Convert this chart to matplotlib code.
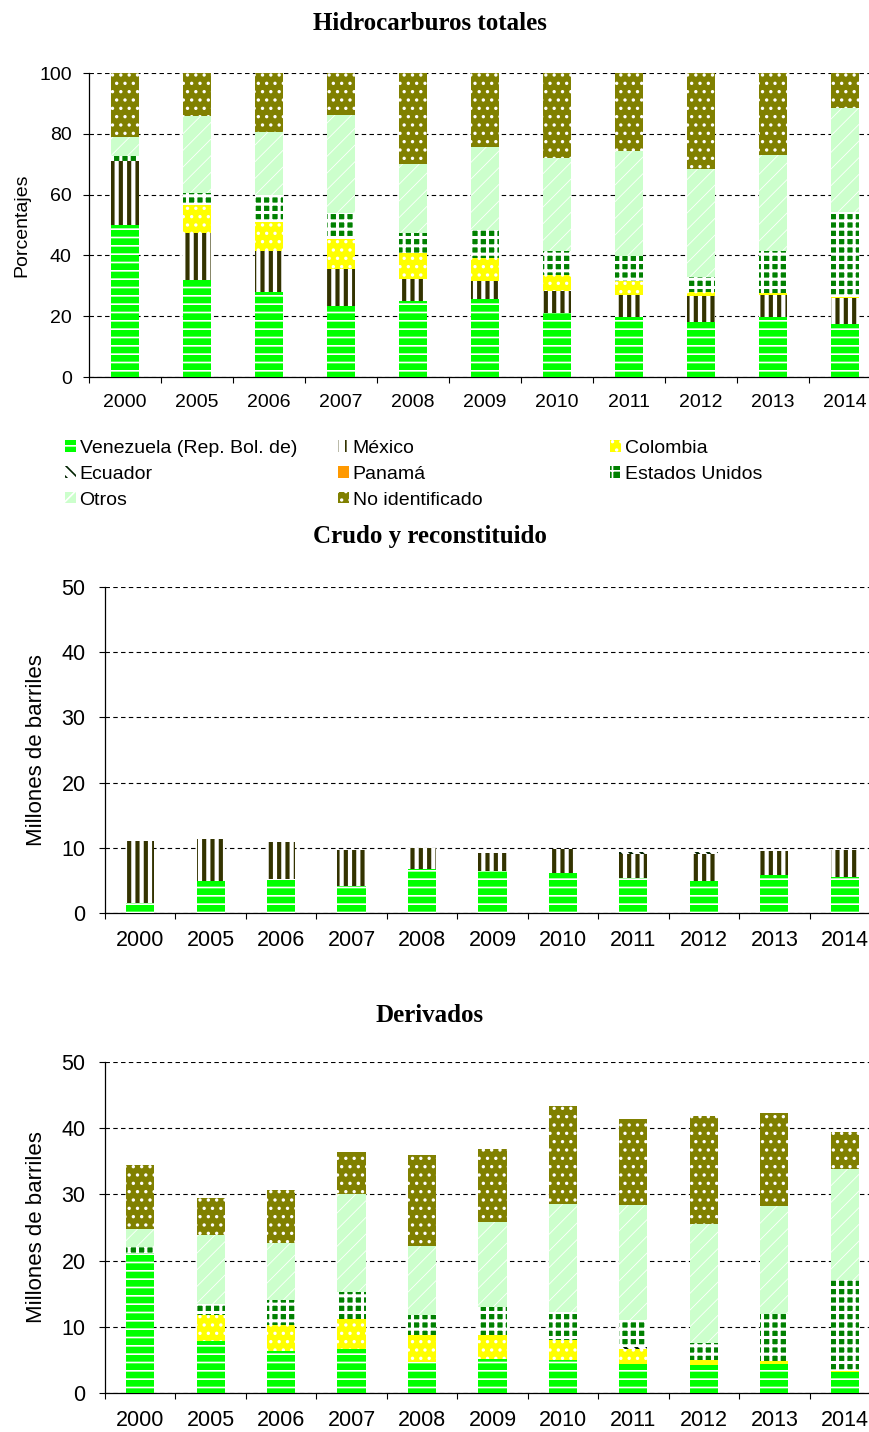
import matplotlib
matplotlib.use("Agg")
import matplotlib.pyplot as plt
from matplotlib.patches import Patch
import numpy as np

plt.rcParams['font.family'] = ['Liberation Sans', 'DejaVu Sans']
plt.rcParams['hatch.linewidth'] = 1.2

years = ['2000', '2005', '2006', '2007', '2008', '2009', '2010', '2011', '2012', '2013', '2014']
series = ['Venezuela (Rep. Bol. de)', 'México', 'Colombia', 'Ecuador', 'Panamá',
          'Estados Unidos', 'Otros', 'No identificado']

# Hidrocarburos totales (porcentajes)
tot_ven = [50.0, 31.9, 27.8, 23.5, 25.1, 25.7, 20.9, 19.6, 18.2, 19.6, 17.4]
tot_mex = [21.0, 15.4, 13.7, 12.0, 7.0, 5.9, 7.4, 7.4, 8.6, 7.4, 8.5]
tot_col = [0.0, 9.3, 9.6, 9.9, 8.6, 7.6, 5.3, 4.5, 1.3, 0.7, 0.3]
tot_ecu = [0.0, 0.0, 0.0, 0.0, 0.0, 0.0, 0.0, 0.0, 0.0, 0.0, 0.0]
tot_pan = [0.0, 0.0, 0.0, 0.0, 0.0, 0.0, 0.0, 0.2, 0.0, 0.0, 0.0]
tot_usa = [1.7, 4.0, 8.8, 8.4, 6.8, 9.2, 7.8, 8.2, 4.9, 13.8, 28.0]
tot_otr = [6.3, 25.3, 20.8, 32.4, 22.6, 27.4, 30.5, 34.5, 35.3, 31.5, 34.4]
tot_ni = [21.0, 14.1, 19.3, 13.8, 29.9, 24.2, 28.1, 25.6, 31.7, 27.0, 11.4]

# Crudo y reconstituido (millones de barriles)
cru_ven = [1.5, 4.9, 5.2, 4.2, 6.8, 6.5, 6.1, 5.3, 4.9, 5.8, 5.5]
cru_mex = [9.5, 6.4, 5.7, 5.5, 3.2, 2.7, 3.7, 3.75, 4.15, 3.75, 4.1]
cru_col = [0.0] * 11
cru_ecu = [0.0, 0.0, 0.0, 0.0, 0.0, 0.0, 0.0, 0.3, 0.3, 0.0, 0.0]
cru_pan = [0.0] * 11
cru_usa = [0.0] * 11
cru_otr = [0.0] * 11
cru_ni = [0.0] * 11

# Derivados (millones de barriles)
der_ven = [21.2, 7.9, 6.3, 6.7, 4.7, 5.2, 5.0, 4.4, 4.3, 4.4, 3.1]
der_mex = [0.0] * 11
der_col = [0.0, 3.9, 3.9, 4.5, 4.0, 3.6, 3.05, 2.2, 0.7, 0.4, 0.2]
der_ecu = [0.0, 0.0, 0.0, 0.0, 0.0, 0.0, 0.0, 0.3, 0.0, 0.0, 0.0]
der_pan = [0.0] * 11
der_usa = [0.8, 1.7, 3.8, 4.0, 3.1, 4.2, 4.25, 4.2, 2.6, 7.2, 13.7]
der_otr = [2.8, 10.3, 8.6, 14.9, 10.4, 12.8, 16.2, 17.3, 18.0, 16.3, 16.9]
der_ni = [9.6, 5.7, 8.0, 6.3, 13.7, 11.1, 14.9, 13.0, 16.2, 14.0, 5.6]

# style per series: facecolor, hatch colour, hatch
styles = [
    ('#00FF00', 'white', '--'),
    ('white', '#333300', '||'),
    ('#FFFF00', 'white', '..'),
    ('white', '#002200', '\\\\\\'),
    ('#FF9900', 'white', 'H'),
    ('#008000', 'white', '++'),
    ('#CCFFCC', 'white', '//'),
    ('#808000', 'white', '..'),
]
hatch_lw = [1.2, 3.0, 1.2, 2.0, 1.0, 2.2, 0.6, 1.2]

W, H = 870, 1432
fig = plt.figure(figsize=(W / 100, H / 100), dpi=100)


def ax_at(l, t, r, b):
    return fig.add_axes([l / W, 1 - b / H, (r - l) / W, (b - t) / H])


def draw(ax, data, ymax, step, ylabel, yfs, tickfs, xpad, ypad):
    x = np.arange(len(years))
    bottom = np.zeros(len(years))
    for i, vals in enumerate(data):
        fc, hc, hat = styles[i]
        v = np.array(vals, dtype=float)
        bars = ax.bar(x, v, width=0.40, bottom=bottom, color=fc, edgecolor=hc,
                      hatch=hat, linewidth=0, zorder=3)
        for bb in bars:
            if hasattr(bb, 'set_hatch_linewidth'):
                bb.set_hatch_linewidth(hatch_lw[i])
        bottom += v
    ax.set_xlim(-0.5, len(years) - 0.5)
    ax.set_ylim(0, ymax)
    ax.set_yticks(np.arange(0, ymax + 0.1, step))
    ax.yaxis.grid(True, linestyle=(0, (4, 3)), color='black', linewidth=0.8, zorder=0)
    ax.set_axisbelow(True)
    ax.set_xticks(x)
    ax.set_xticklabels(years, fontsize=tickfs)
    ax.set_xticks(np.arange(-0.5, len(years), 1.0), minor=True)
    ax.tick_params(axis='x', which='major', length=0, pad=xpad)
    ax.tick_params(axis='x', which='minor', length=4.5, width=0.8, direction='out')
    ax.tick_params(axis='y', length=4.5, width=0.8, direction='out', labelsize=tickfs, pad=ypad)
    for s in ['top', 'right']:
        ax.spines[s].set_visible(False)
    for s in ['left', 'bottom']:
        ax.spines[s].set_linewidth(0.9)
    ax.set_ylabel(ylabel, fontsize=yfs)


# Top chart
ax1 = ax_at(89, 73, 881, 377)
draw(ax1, [tot_ven, tot_mex, tot_col, tot_ecu, tot_pan, tot_usa, tot_otr, tot_ni],
     100, 20, 'Porcentajes', 14, 14, 12.5, 8)
ax1.yaxis.set_label_coords(-0.074, 0.5)
fig.text(430 / W, 1 - 23 / H, 'Hidrocarburos totales', ha='center', va='center',
         fontsize=18, fontweight='bold', family='Liberation Serif')

# Legend in three columns
handles = []
for i, name in enumerate(series):
    fc, hc, hat = styles[i]
    p = Patch(facecolor=fc, edgecolor=hc, hatch=hat, linewidth=0, label=name)
    if hasattr(p, 'set_hatch_linewidth'):
        p.set_hatch_linewidth(hatch_lw[i] * 0.6)
    handles.append(p)
cols = [([0, 3, 6], 65), ([1, 4, 7], 338), ([2, 5], 610)]
for idx, xpix in cols:
    leg = fig.legend([handles[k] for k in idx], [series[k] for k in idx],
                     loc='upper left', bbox_to_anchor=(xpix / W, 1 - 440 / H),
                     frameon=False, fontsize=14, handlelength=0.55, handleheight=0.55,
                     handletextpad=0.2, labelspacing=0.45, borderaxespad=0, borderpad=0)

# Middle chart
ax2 = ax_at(105, 587, 880, 913)
draw(ax2, [cru_ven, cru_mex, cru_col, cru_ecu, cru_pan, cru_usa, cru_otr, cru_ni],
     50, 10, 'Millones de barriles', 16, 15.5, 12.5, 9.5)
ax2.yaxis.set_label_coords(-0.075, 0.5)
fig.text(430 / W, 1 - 536 / H, 'Crudo y reconstituido', ha='center', va='center',
         fontsize=18, fontweight='bold', family='Liberation Serif')

# Bottom chart
ax3 = ax_at(105, 1062, 880, 1393)
draw(ax3, [der_ven, der_mex, der_col, der_ecu, der_pan, der_usa, der_otr, der_ni],
     50, 10, 'Millones de barriles', 16, 15.5, 12, 9.5)
ax3.yaxis.set_label_coords(-0.075, 0.5)
fig.text(430 / W, 1 - 1015 / H, 'Derivados', ha='center', va='center',
         fontsize=18, fontweight='bold', family='Liberation Serif')

fig.savefig('out.png', dpi=100)
